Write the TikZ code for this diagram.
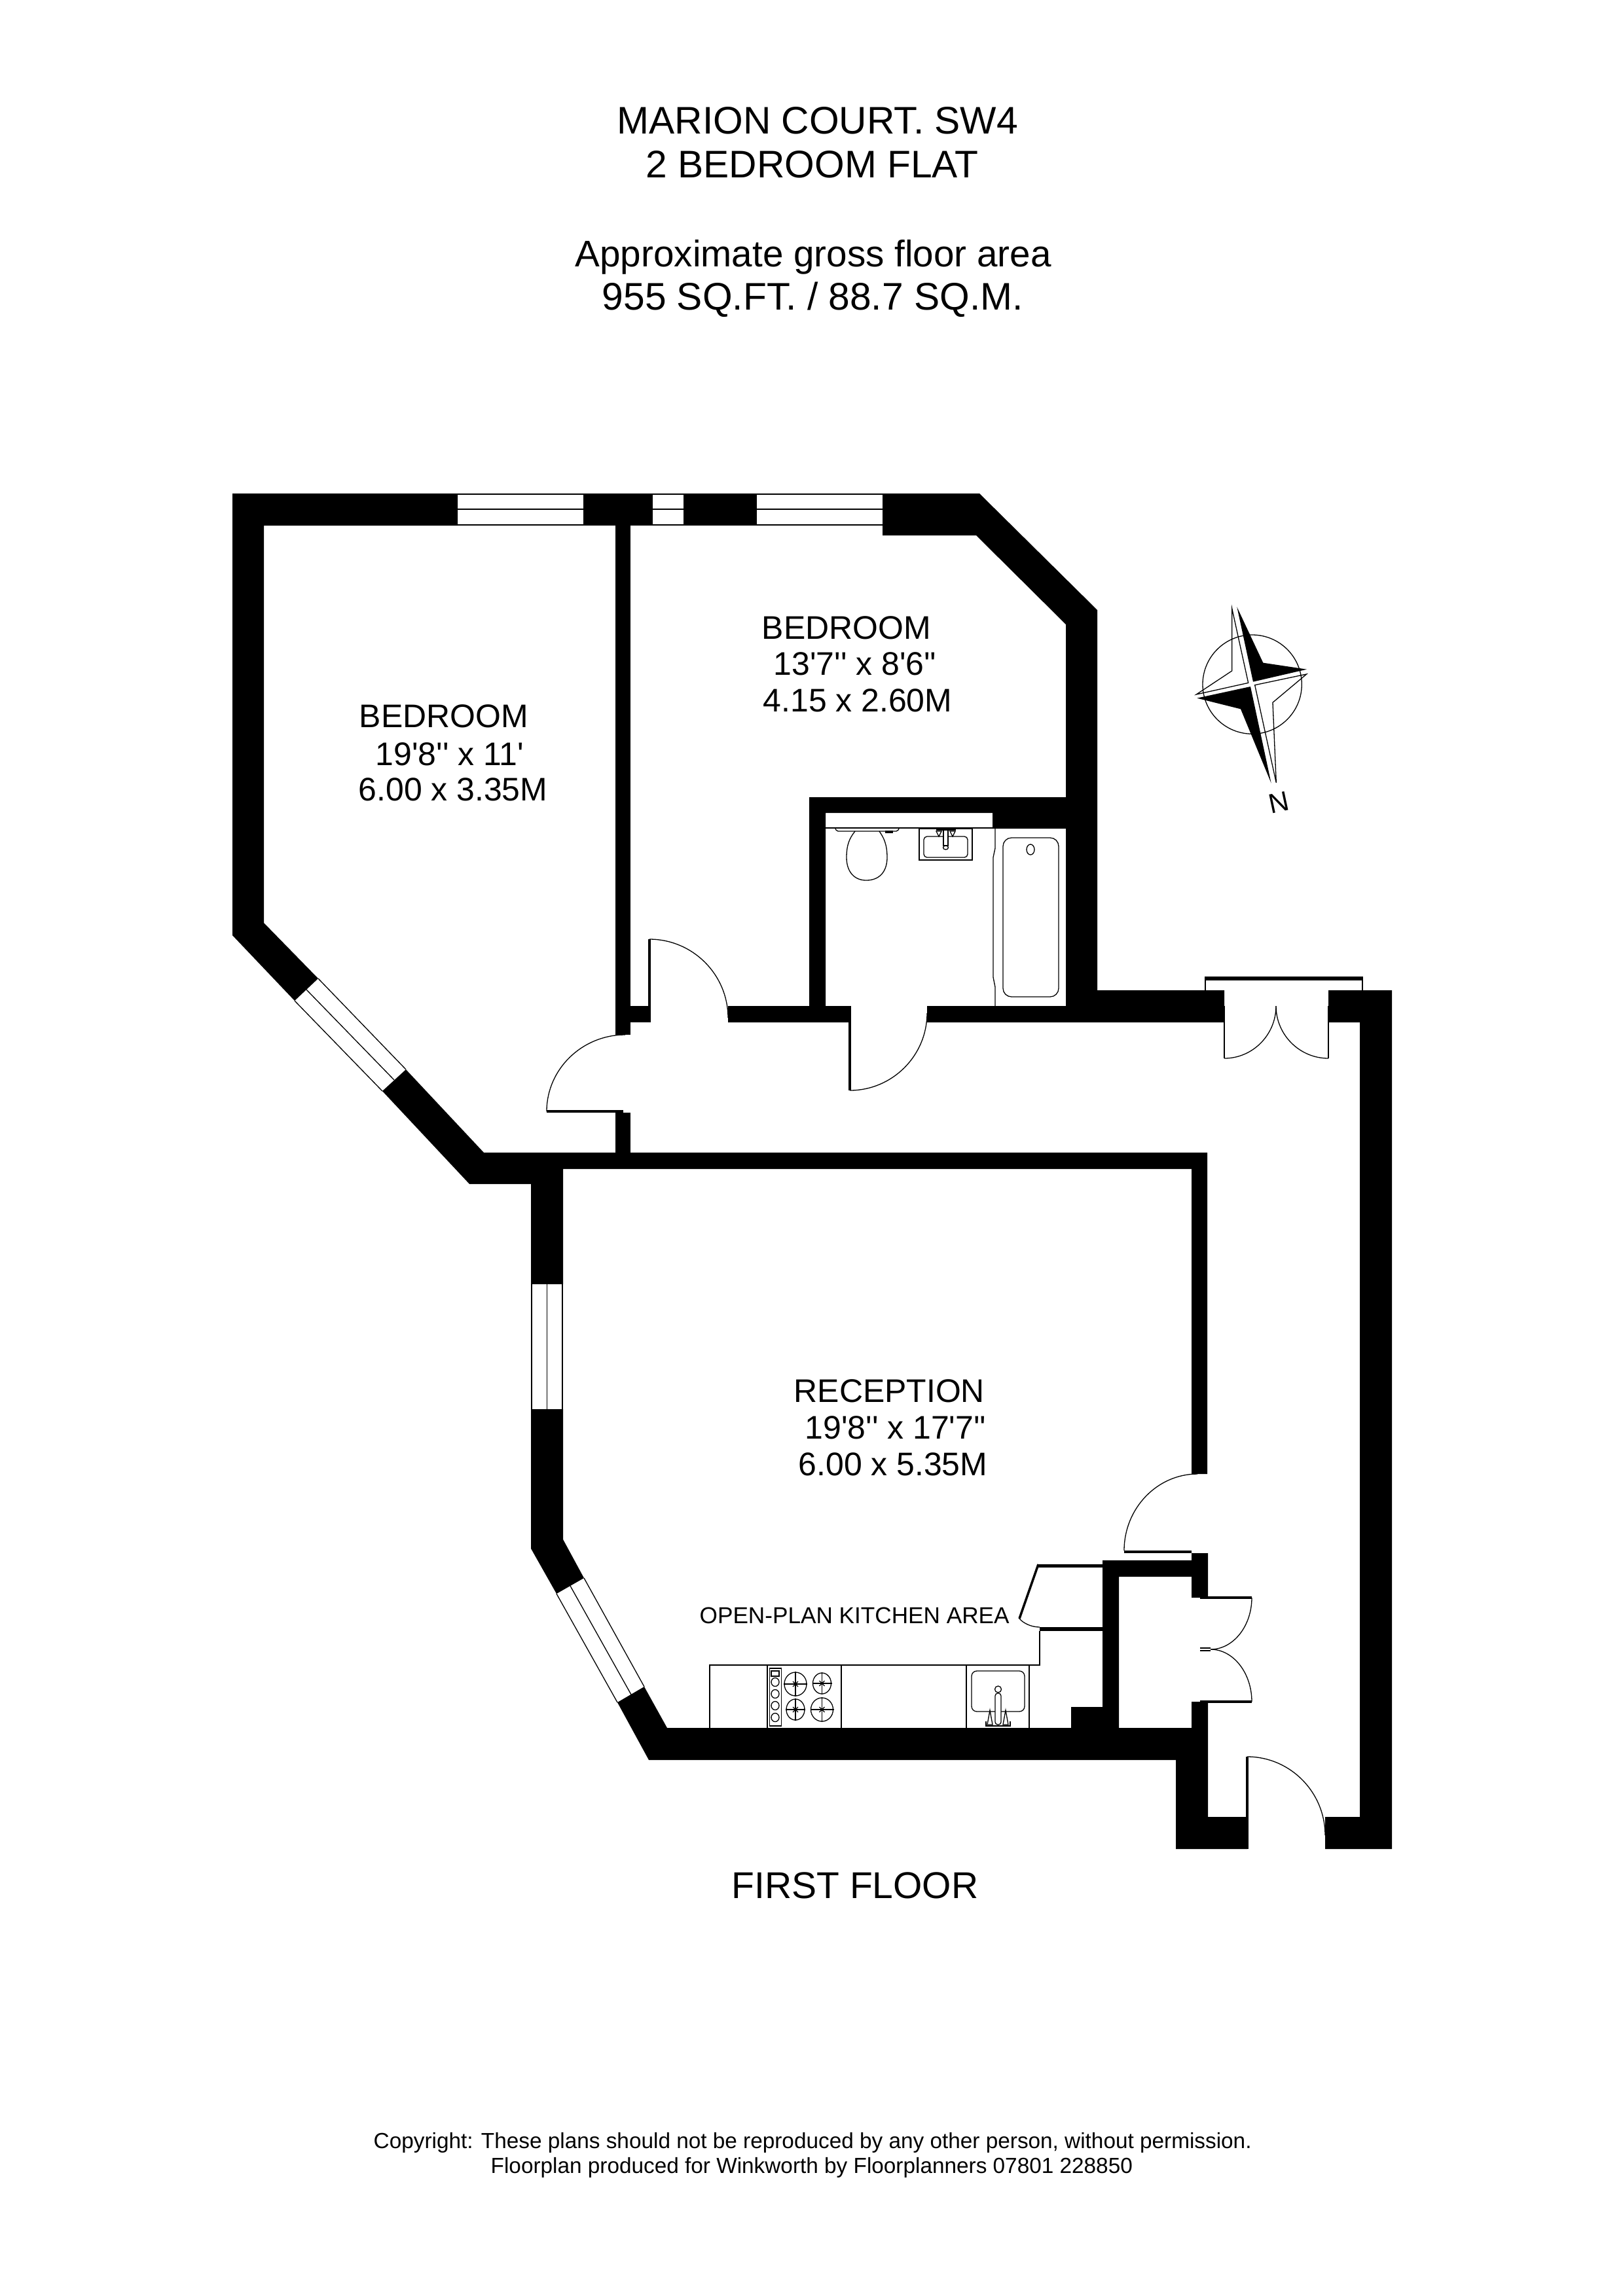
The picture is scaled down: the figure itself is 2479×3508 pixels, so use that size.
\documentclass[tikz,border=0pt]{standalone}
\usepackage{fontspec}
\usetikzlibrary{calc}
\newfontfamily\plansans{Liberation Sans}

\tikzset{
	wall/.style={fill=black},
	fine/.style={draw=black,line width=0.013cm},
	leaf/.style={draw=black,line width=0.035cm},
	titletext/.style={anchor=base west,inner sep=0pt,font=\plansans\fontsize{16.7}{18}\selectfont},
	areatext/.style={anchor=base west,inner sep=0pt,font=\plansans\fontsize{16.1}{18}\selectfont},
	floortext/.style={anchor=base west,inner sep=0pt,font=\plansans\fontsize{16.2}{18}\selectfont},
	roomtext/.style={anchor=base west,inner sep=0pt,font=\plansans\fontsize{14.2}{16}\selectfont},
	kitchentext/.style={anchor=base west,inner sep=0pt,font=\plansans\fontsize{10}{12}\selectfont},
	smalltext/.style={anchor=base west,inner sep=0pt,font=\plansans\fontsize{9.48}{11}\selectfont},
}
\newcommand{\swing}[3]{\draw[fine] (#1) .. controls ($(#1)!0.55!(#3)$) and ($(#2)!0.55!(#3)$) .. (#2);}

\begin{document}
\begin{tikzpicture}[x=0.01cm,y=-0.01cm]
	\useasboundingbox (0,0) rectangle (2479,3508);

	\node[titletext] (title0) at (942,204) {MARION COURT. SW4};
	\node[titletext] (title1) at (986,271) {2 BEDROOM FLAT};
	\node[areatext] (area0) at (878,407) {Approximate gross floor area};
	\node[titletext] (area1) at (919,473) {955 SQ.FT. / 88.7 SQ.M.};

	\fill[wall] (355,754) -- (699,754) -- (699,803) -- (403,803) -- (403,1410) -- (486,1495) -- (450,1529) -- (355,1429) -- cycle;
	\fill[wall] (891,754) rectangle (997,803);
	\fill[wall] (1044,754) rectangle (1156,803);
	\fill[wall] (1348,754) -- (1496,754) -- (1676,932) -- (1676,1513) -- (1870,1513) -- (1870,1562) -- (1416,1562) -- (1416,1537) -- (1628,1537) -- (1628,1266) -- (1516,1266) -- (1516,1242) -- (1261,1242) -- (1261,1537) -- (1297,1537) -- (1297,1562) -- (1112,1562) -- (1112,1537) -- (1236,1537) -- (1236,1218) -- (1628,1218) -- (1628,954) -- (1491,818) -- (1348,818) -- cycle;
	\fill[wall] (940,803) rectangle (963,1581);
	\fill[wall] (963,1537) rectangle (992,1562);
	\fill[wall] (940,1700) rectangle (963,1761);
	\fill[wall] (620,1634) -- (739,1761) -- (1844,1761) -- (1844,2252) -- (1820,2252) -- (1820,1786) -- (860,1786) -- (860,1962) -- (811,1962) -- (811,1809) -- (717,1809) -- (584,1667) -- cycle;
	\fill[wall] (811,2153) -- (860,2153) -- (860,2352) -- (892,2411) -- (850,2435) -- (811,2366) -- cycle;
	\fill[wall] (943,2601) -- (984,2577) -- (1019,2640) -- (1636,2640) -- (1636,2608) -- (1684,2608) -- (1684,2384) -- (1820,2384) -- (1820,2373) -- (1845,2373) -- (1845,2441) -- (1820,2441) -- (1820,2409) -- (1709,2409) -- (1709,2640) -- (1820,2640) -- (1820,2600) -- (1845,2600) -- (1845,2776) -- (1905,2776) -- (1905,2825) -- (1796,2825) -- (1796,2689) -- (991,2689) -- cycle;
	\fill[wall] (2029,1513) -- (2126,1513) -- (2126,2825) -- (2024,2825) -- (2024,2776) -- (2077,2776) -- (2077,1562) -- (2029,1562) -- cycle;
	\fill[wall] (1586,2390) rectangle (1684,2395);
	\fill[wall] (1588,2486) rectangle (1684,2492);
	\fill[wall] (1840,1492) rectangle (2082,1498);

	\foreach \wa/\wb in {699/891,997/1044,1156/1348}{
		\draw[fine] (\wa,755) -- (\wb,755);
		\draw[fine] (\wa,778) -- (\wb,778);
		\draw[fine] (\wa,802) -- (\wb,802);
	}
	\foreach \wx in {812,835.5,859}{
		\draw[fine] (\wx,1962) -- (\wx,2153);
	}
	\draw[fine] (450,1529) -- (584,1667);
	\draw[fine] (468,1512) -- (602,1650);
	\draw[fine] (486,1495) -- (620,1634);
	\draw[fine] (850,2435) -- (943,2601);
	\draw[fine] (871,2423) -- (964,2589);
	\draw[fine] (892,2411) -- (984,2577);
	\draw[fine,line width=0.02cm] (1841,1498) -- (1841,1513);
	\draw[fine,line width=0.02cm] (2081,1498) -- (2081,1513);

	\draw[leaf] (992,1435) -- (992,1562);
	\swing{992,1435}{1112,1555}{1112,1435}
	\draw[leaf] (835,1698) -- (952,1698);
	\swing{955,1581}{835,1698}{835,1581}
	\draw[leaf] (1298,1537) -- (1298,1666);
	\swing{1416,1548}{1298,1666}{1416,1666}
	\draw[fine] (1870,1537) -- (1870,1617);
	\draw[fine] (2029,1537) -- (2029,1617);
	\swing{1949,1537}{1870,1617}{1949,1617}
	\swing{1949,1537}{2029,1617}{1949,1617}
	\draw[leaf] (1717,2371) -- (1820,2371);
	\swing{1829,2252}{1717,2369}{1717,2252}
	\draw[leaf] (1833,2441) -- (1912,2441);
	\draw[leaf] (1833,2600) -- (1912,2600);
	\draw[fine] (1833,2518) -- (1849,2518);
	\draw[fine] (1833,2522) -- (1849,2522);
	\swing{1912,2441}{1849,2520}{1912,2520}
	\swing{1912,2600}{1849,2520}{1912,2520}
	\draw[leaf] (1905,2684) -- (1905,2825);
	\swing{1905,2684}{2024,2804}{2024,2684}
	\draw[leaf] (1586,2390) -- (1557,2473);
	\draw[fine] (1557,2473) .. controls (1563,2480) and (1575,2486) .. (1588,2486);

	\draw[fine] (1261,1265) -- (1516,1265);
	\draw[fine,rounded corners=0.02cm] (1276,1266) -- (1278,1270) -- (1371,1270) -- (1373,1266);
	\draw[fine] (1353,1270) rectangle (1363,1272);
	\draw[fine] (1306,1270) .. controls (1298,1280) and (1293,1290) .. (1293,1310) .. controls (1293,1332) and (1305,1345) .. (1323,1345) .. controls (1343,1345) and (1355,1332) .. (1355,1310) .. controls (1355,1290) and (1350,1280) .. (1343,1270);
	\draw[fine] (1404,1266) rectangle (1485,1314);
	\draw[fine,rounded corners=0.05cm] (1411,1278) rectangle (1478,1310);
	\draw[fine,fill=white] (1441,1268) rectangle (1448,1292);
	\draw[fine] (1444.5,1295) circle[x radius=4,y radius=3];
	\draw[fine] (1430,1268) -- (1460,1268);
	\draw[fine] (1430,1270) -- (1434,1278) -- (1438,1270) -- cycle;
	\draw[fine] (1451,1270) -- (1455,1278) -- (1459,1270) -- cycle;
	\draw[fine] (1520,1266) -- (1520,1296) -- (1517,1310) -- (1517,1493) -- (1520,1508) -- (1520,1537);
	\draw[fine,rounded corners=0.13cm] (1532,1280) rectangle (1617,1523);
	\draw[fine] (1574,1298) circle[x radius=6,y radius=8];

	\draw[fine] (1588,2492) -- (1588,2544) -- (1084,2544) -- (1084,2640);
	\foreach \cx in {1172,1285,1476,1572}{
		\draw[fine] (\cx,2544) -- (\cx,2640);
	}
	\draw[fine] (1175.5,2549) rectangle (1193.5,2637);
	\draw[fine] (1178,2553) rectangle (1190,2561);
	\foreach \ky in {2570,2588,2606,2624}{
		\draw[fine] (1184,\ky) circle[x radius=6,y radius=6.5];
	}
	\foreach \bx/\by/\brx/\bry in {1215/2573/17/18,1255.5/2572/14/16,1215/2612/14/16,1255.5/2612/17/18}{
		\draw[fine] (\bx,\by) circle[x radius=\brx,y radius=\bry];
		\draw[fine] (\bx-\brx-1,\by) -- (\bx+\brx+1,\by);
		\draw[fine] (\bx,\by-\bry-1) -- (\bx,\by+\bry+1);
		\draw[fine] (\bx-4,\by-4) -- (\bx+4,\by+4);
		\draw[fine] (\bx-4,\by+4) -- (\bx+4,\by-4);
	}
	\draw[fine,rounded corners=0.08cm] (1484,2553) rectangle (1565,2615);
	\draw[fine,fill=white,rounded corners=0.04cm] (1520,2587) rectangle (1529,2635);
	\draw[fine] (1524.5,2581) circle[radius=5];
	\draw[fine] (1512,2613) -- (1508,2635) -- (1516,2635) -- cycle;
	\draw[fine] (1536,2613) -- (1532,2635) -- (1540,2635) -- cycle;
	\draw[fine] (1506,2630) -- (1506,2637) -- (1543,2637) -- (1543,2630);

	\node[roomtext] (bed0) at (548,1111) {BEDROOM};
	\node[roomtext] (bed1) at (573,1169) {19'8'' x 11'};
	\node[roomtext] (bed2) at (547,1223) {6.00 x 3.35M};
	\node[roomtext] (bedb0) at (1163,976) {BEDROOM};
	\node[roomtext] (bedb1) at (1181,1031) {13'7'' x 8'6''};
	\node[roomtext] (bedb2) at (1165,1087) {4.15 x 2.60M};
	\node[roomtext] (rec0) at (1212,2142) {RECEPTION};
	\node[roomtext] (rec1) at (1229,2198) {19'8'' x 17'7''};
	\node[roomtext] (rec2) at (1219,2254) {6.00 x 5.35M};
	\node[kitchentext] (kitchen) at (1068,2480) {OPEN-PLAN KITCHEN AREA};
	\node[floortext] (floor) at (1117,2900) {FIRST FLOOR};
	\node[smalltext] (copy0) at (570,3282) {Copyright: These plans should not be reproduced by any other person, without permission.};
	\node[smalltext] (copy1) at (749,3320) {Floorplan produced for Winkworth by Floorplanners 07801 228850};

	\begin{scope}[shift={(1800,900)},scale=0.3333]
		\draw[fine] (338,437) circle[radius=227];
		\fill[wall] (268,82) -- (388,338) -- (588,368) -- (342,425) -- cycle;
		\fill[wall] (85,500) -- (330,447) -- (425,890) -- (285,550) -- cycle;
		\draw[fine] (245,88) -- (245,375) -- (82,483) -- (320,430) -- cycle;
		\draw[fine] (448,888) -- (432,520) -- (587,390) -- (350,440) -- cycle;
	\end{scope}
	\node[inner sep=0pt,rotate=12,font=\plansans\fontsize{12}{14}\selectfont] (north) at (1953,1226) {N};
\end{tikzpicture}
\end{document}
